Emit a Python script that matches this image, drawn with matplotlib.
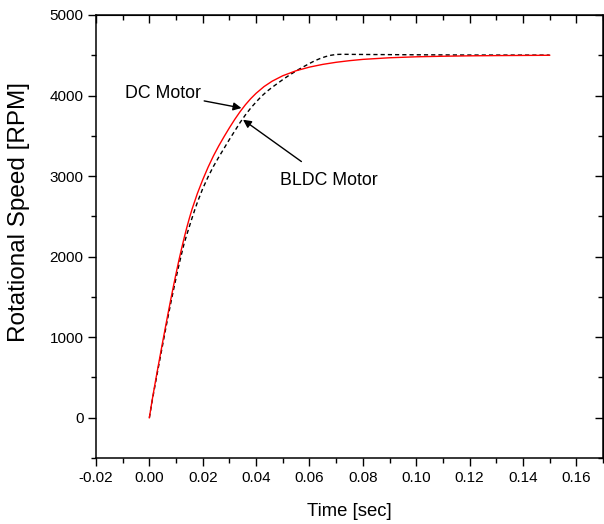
import matplotlib
matplotlib.use("Agg")
import matplotlib.pyplot as plt
from matplotlib.ticker import MultipleLocator, FormatStrFormatter

plt.rcParams['font.family'] = ['Liberation Sans', 'DejaVu Sans']

# DC motor response (red, solid)
dc_t = [0, 0.001, 0.002, 0.003, 0.004, 0.005, 0.006, 0.007, 0.008, 0.009,
        0.010, 0.011, 0.012, 0.013, 0.014, 0.015, 0.016, 0.018, 0.020, 0.022,
        0.024, 0.026, 0.028, 0.030, 0.032, 0.034, 0.036, 0.038, 0.040, 0.043,
        0.046, 0.050, 0.055, 0.060, 0.065, 0.070, 0.075, 0.080, 0.090, 0.100,
        0.110, 0.120, 0.130, 0.140, 0.150]
dc_v = [0, 210, 400, 585, 765, 945, 1120, 1295, 1465, 1630,
        1790, 1945, 2090, 2228, 2358, 2478, 2590, 2785, 2955, 3110,
        3250, 3375, 3490, 3600, 3704, 3800, 3886, 3962, 4028, 4112,
        4178, 4246, 4308, 4353, 4387, 4413, 4433, 4449, 4469, 4481,
        4488, 4493, 4496, 4498, 4500]

# BLDC motor response (black, dashed)
bldc_t = [0, 0.001, 0.002, 0.003, 0.004, 0.005, 0.006, 0.007, 0.008, 0.009,
          0.010, 0.011, 0.012, 0.013, 0.014, 0.015, 0.016, 0.017, 0.018, 0.020,
          0.022, 0.024, 0.026, 0.028, 0.030, 0.032, 0.034, 0.036, 0.038, 0.040,
          0.042, 0.044, 0.046, 0.048, 0.050, 0.052, 0.054, 0.056, 0.058, 0.060,
          0.062, 0.064, 0.066, 0.068, 0.070, 0.072, 0.080, 0.100, 0.120, 0.150]
bldc_v = [0, 200, 380, 560, 735, 910, 1085, 1255, 1420, 1580,
          1735, 1885, 2025, 2160, 2270, 2375, 2480, 2580, 2675, 2845,
          2990, 3120, 3235, 3345, 3455, 3560, 3665, 3760, 3845, 3920,
          3990, 4050, 4102, 4150, 4198, 4243, 4285, 4325, 4362, 4398,
          4432, 4460, 4483, 4500, 4510, 4512, 4510, 4506, 4503, 4502]

x_ticks = [-0.02, 0.00, 0.02, 0.04, 0.06, 0.08, 0.10, 0.12, 0.14, 0.16]
y_ticks = [0, 1000, 2000, 3000, 4000, 5000]

fig = plt.figure(figsize=(6.04, 5.24), dpi=100)
ax = fig.add_axes([96/604, 66/524, 507/604, 443/524])

ax.plot(bldc_t, bldc_v, color='black', lw=1.0, dashes=(3.0, 2.2))
ax.plot(dc_t, dc_v, color='red', lw=1.0)

ax.set_xlim(-0.02, 0.17)
ax.set_ylim(-500, 5000)
ax.set_xticks(x_ticks)
ax.set_yticks(y_ticks)
ax.xaxis.set_major_formatter(FormatStrFormatter('%.2f'))
ax.xaxis.set_minor_locator(MultipleLocator(0.01))
ax.yaxis.set_minor_locator(MultipleLocator(500))

for s in ax.spines.values():
    s.set_linewidth(1.1)

ax.tick_params(axis='both', which='major', direction='out', length=6, width=1.0,
               labelsize=11, pad=3)
ax.tick_params(axis='both', which='minor', direction='out', length=3.5, width=1.0)
ax.tick_params(top=False, right=False, which='both')

# mirrored inward ticks on top and right
axt = ax.secondary_xaxis('top')
axt.set_xticks(x_ticks)
axt.xaxis.set_minor_locator(MultipleLocator(0.01))
axt.tick_params(direction='in', length=6, width=1.0, labeltop=False)
axt.tick_params(which='minor', direction='in', length=3.5, width=1.0)
axr = ax.secondary_yaxis('right')
axr.set_yticks(y_ticks)
axr.yaxis.set_minor_locator(MultipleLocator(500))
axr.tick_params(direction='in', length=6, width=1.0, labelright=False)
axr.tick_params(which='minor', direction='in', length=3.5, width=1.0)

ax.set_xlabel('Time [sec]', fontsize=13.3)
ax.xaxis.set_label_coords(0.5, -(503 - 458) / 443)
ax.set_ylabel('Rotational Speed [RPM]', fontsize=17.5)
ax.yaxis.set_label_coords(-(96 - 30) / 507, (458 - 212) / 443)

ax.annotate('DC Motor', xy=(0.0345, 3845), xytext=(0.0195, 4030),
            ha='right', va='center', fontsize=12.8,
            arrowprops=dict(arrowstyle='-|>', color='black', lw=1.0,
                            mutation_scale=12, shrinkA=0, shrinkB=0))
ax.annotate('BLDC Motor', xy=(0.0351, 3700), xytext=(0.0671, 2940),
            ha='center', va='center', fontsize=12.8,
            arrowprops=dict(arrowstyle='-|>', color='black', lw=1.0,
                            mutation_scale=12, shrinkA=10, shrinkB=0))

fig.savefig('out.png', dpi=100)
